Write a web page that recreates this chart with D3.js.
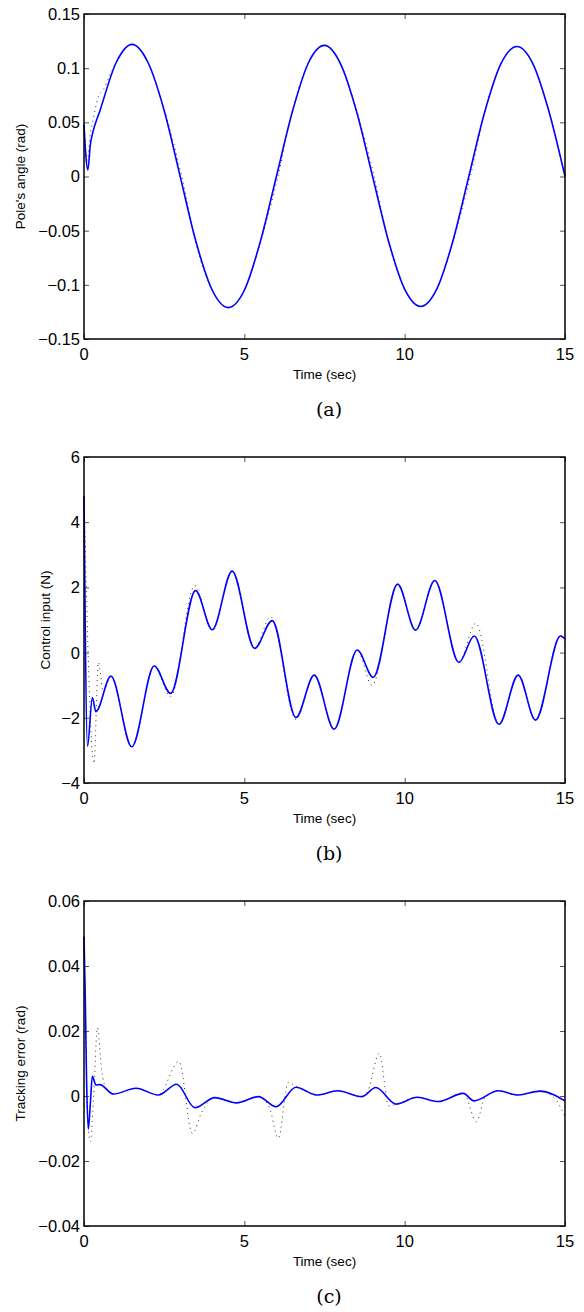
<!DOCTYPE html>
<html>
<head>
<meta charset="utf-8">
<script src="https://cdn.jsdelivr.net/npm/d3@7"></script>
<style>
  body { margin: 0; background: #ffffff; }
  svg { display: block; }
  .tick-label { font-family: "Liberation Sans", Arial, sans-serif; font-size: 16.5px; fill: #000; }
  .axis-label { font-family: "Liberation Sans", Arial, sans-serif; font-size: 13.5px; fill: #000; }
  .caption { font-family: "DejaVu Serif", "Liberation Serif", serif; font-size: 19px; fill: #000; }
</style>
</head>
<body>
<div id="chart"></div>
<script>
// x ticks shared by all panels
const xTicks = [0, 5, 10, 15];

// (a) pole angle
const angleTicks = [0.15, 0.1, 0.05, 0, -0.05, -0.1, -0.15];
const angleTickLabels = ["0.15", "0.1", "0.05", "0", "\u22120.05", "\u22120.1", "\u22120.15"];
const angleT = [0, 0.05, 0.12, 0.2, 0.27, 0.5, 1.0, 1.5, 2.0, 2.5, 3.0, 3.5, 4.0, 4.5, 5.0, 5.5, 6.0, 6.5, 7.0, 7.5, 8.0, 8.5, 9.0, 9.5, 10.0, 10.5, 11.0, 11.5, 12.0, 12.5, 13.0, 13.5, 14.0, 14.5, 15.0];
const angleBlue = [0.048, 0.022, 0.006, 0.03, 0.04, 0.061, 0.105, 0.122, 0.105, 0.061, 0.0, -0.061, -0.105, -0.121, -0.105, -0.060, 0.0, 0.060, 0.105, 0.121, 0.104, 0.060, 0.0, -0.060, -0.104, -0.120, -0.104, -0.060, 0.0, 0.060, 0.104, 0.120, 0.104, 0.060, 0.0];
const angleDotT = [0, 0.1, 0.2, 0.3, 0.45, 0.6, 0.8, 1.0, 1.5, 2.0, 2.5, 3.05, 3.5, 4.0, 4.5, 5.0, 5.5, 6.05, 6.5, 7.0, 7.5, 8.0, 8.5, 9.05, 9.5, 10.0, 10.5, 11.0, 11.5, 12.05, 12.5, 13.0, 13.5, 14.0, 14.5, 15.0];
const angleDot = [0.048, 0.015, 0.04, 0.055, 0.074, 0.08, 0.093, 0.105, 0.122, 0.105, 0.062, 0.0, -0.063, -0.105, -0.121, -0.105, -0.061, 0.0, 0.061, 0.105, 0.121, 0.104, 0.061, 0.0, -0.061, -0.104, -0.120, -0.104, -0.061, 0.0, 0.060, 0.104, 0.120, 0.104, 0.060, 0.0];

// (b) control input, turning points
const forceTicks = [6, 4, 2, 0, -2, -4];
const forceTickLabels = ["6", "4", "2", "0", "\u22122", "\u22124"];
const forceT = [0, 0.11, 0.26, 0.37, 0.84, 1.49, 2.19, 2.70, 3.48, 4.0, 4.62, 5.32, 5.87, 6.61, 7.18, 7.80, 8.52, 9.02, 9.78, 10.34, 10.94, 11.69, 12.17, 12.94, 13.54, 14.08, 14.86, 15.0];
const forceBlue = [4.8, -2.87, -1.38, -1.81, -0.72, -2.89, -0.41, -1.25, 1.90, 0.70, 2.50, 0.13, 0.98, -1.99, -0.69, -2.35, 0.08, -0.76, 2.10, 0.69, 2.21, -0.30, 0.51, -2.20, -0.69, -2.07, 0.51, 0.42];
const forceDotT = [0, 0.31, 0.45, 0.6, 0.84, 1.49, 2.19, 2.70, 3.45, 4.0, 4.62, 5.32, 5.82, 6.61, 7.18, 7.80, 8.52, 8.98, 9.78, 10.34, 10.94, 11.69, 12.22, 12.94, 13.54, 14.08, 14.86, 15.0];
const forceDot = [4.8, -3.4, -0.3, -1.2, -0.75, -2.89, -0.41, -1.35, 2.05, 0.70, 2.50, 0.13, 1.10, -2.05, -0.69, -2.35, 0.08, -1.0, 2.10, 0.69, 2.21, -0.30, 0.90, -2.20, -0.69, -2.07, 0.51, 0.42];

// (c) tracking error
const errTicks = [0.06, 0.04, 0.02, 0, -0.02, -0.04];
const errTickLabels = ["0.06", "0.04", "0.02", "0", "\u22120.02", "\u22120.04"];
const errT = [0, 0.04, 0.08, 0.135, 0.2, 0.26, 0.37, 0.49, 0.92, 1.62, 2.32, 2.89, 3.46, 4.08, 4.76, 5.44, 5.99, 6.61, 7.26, 7.91, 8.66, 9.10, 9.73, 10.39, 11.05, 11.83, 12.16, 12.92, 13.54, 14.22, 15.0];
const errBlue = [0.049, 0.03, 0.005, -0.0102, -0.002, 0.0061, 0.0034, 0.0035, 0.0006, 0.0024, 0.0003, 0.0036, -0.0036, -0.0005, -0.0021, -0.0002, -0.0033, 0.0027, 0.0003, 0.0016, -0.0002, 0.0026, -0.0025, -0.0004, -0.0017, 0.0008, -0.0015, 0.0016, 0.0003, 0.0015, -0.0015];
const errDotT = [0, 0.04, 0.1, 0.2, 0.3, 0.42, 0.55, 0.7, 0.92, 1.62, 2.32, 2.96, 3.38, 3.67, 4.08, 4.76, 5.44, 5.78, 6.06, 6.37, 6.61, 7.26, 7.91, 8.66, 8.85, 9.21, 9.5, 10.39, 11.05, 11.83, 12.24, 12.5, 12.92, 13.54, 14.22, 14.7, 15.0];
const errDot = [0.049, 0.03, -0.005, -0.014, 0.0, 0.021, 0.008, 0.002, 0.0006, 0.0024, 0.0003, 0.0106, -0.0115, -0.005, -0.0005, -0.0021, -0.0002, -0.0035, -0.013, 0.0042, 0.003, 0.0003, 0.0016, -0.0002, 0.0015, 0.0131, -0.003, -0.0004, -0.0017, 0.001, -0.0079, -0.0005, 0.0016, 0.0003, 0.0015, -0.001, -0.0065];

const width = 584;
const height = 1312;
const left = 84, right = 565;

const panels = [
  { top: 14, bottom: 339, domain: [-0.15, 0.15], ticks: angleTicks, labels: angleTickLabels,
    ylabel: "Pole's angle (rad)", ylabelX: 20, caption: "(a)",
    blue: [angleT, angleBlue], dot: [angleDotT, angleDot] },
  { top: 457, bottom: 783, domain: [-4, 6], ticks: forceTicks, labels: forceTickLabels,
    ylabel: "Control input (N)", ylabelX: 45, caption: "(b)",
    blue: [forceT, forceBlue], dot: [forceDotT, forceDot] },
  { top: 901, bottom: 1226, domain: [-0.04, 0.06], ticks: errTicks, labels: errTickLabels,
    ylabel: "Tracking error (rad)", ylabelX: 20, caption: "(c)",
    blue: [errT, errBlue], dot: [errDotT, errDot] }
];

const svg = d3.select("#chart").append("svg")
  .attr("width", width)
  .attr("height", height);

const x = d3.scaleLinear().domain([0, 15]).range([left, right]);

panels.forEach(function (p) {
  const y = d3.scaleLinear().domain(p.domain).range([p.bottom, p.top]);
  const g = svg.append("g");

  // inward ticks on all four sides, MATLAB style
  const xAxisB = d3.axisTop(x).tickValues(xTicks).tickSize(5).tickFormat("");
  const xAxisT = d3.axisBottom(x).tickValues(xTicks).tickSize(5).tickFormat("");
  const yAxisL = d3.axisRight(y).tickValues(p.ticks).tickSize(5).tickFormat("");
  const yAxisR = d3.axisLeft(y).tickValues(p.ticks).tickSize(5).tickFormat("");

  g.append("g").attr("transform", `translate(0,${p.bottom})`).call(xAxisB);
  g.append("g").attr("transform", `translate(0,${p.top})`).call(xAxisT);
  g.append("g").attr("transform", `translate(${left},0)`).call(yAxisL);
  g.append("g").attr("transform", `translate(${right},0)`).call(yAxisR);
  g.selectAll(".domain").remove();
  g.selectAll(".tick line").attr("stroke", "#555").attr("stroke-width", 1);

  const line = d3.line()
    .x((d) => x(d[0]))
    .y((d) => y(d[1]))
    .curve(d3.curveMonotoneX);

  const dotData = p.dot[0].map((t, i) => [t, p.dot[1][i]]);
  const blueData = p.blue[0].map((t, i) => [t, p.blue[1][i]]);

  g.append("path")
    .datum(dotData)
    .attr("d", line)
    .attr("fill", "none")
    .attr("stroke", "#333")
    .attr("stroke-width", 1)
    .attr("stroke-dasharray", "1,4");

  g.append("path")
    .datum(blueData)
    .attr("d", line)
    .attr("fill", "none")
    .attr("stroke", "#0000ff")
    .attr("stroke-width", 1.6);

  // box
  g.append("rect")
    .attr("x", left)
    .attr("y", p.top)
    .attr("width", right - left)
    .attr("height", p.bottom - p.top)
    .attr("fill", "none")
    .attr("stroke", "#000")
    .attr("stroke-width", 1.5);

  // tick labels
  g.selectAll(".xlab")
    .data(xTicks)
    .enter()
    .append("text")
    .attr("class", "tick-label")
    .attr("x", (d) => x(d))
    .attr("y", p.bottom + 21)
    .attr("text-anchor", "middle")
    .text((d) => d);

  g.selectAll(".ylab")
    .data(p.ticks)
    .enter()
    .append("text")
    .attr("class", "tick-label")
    .attr("x", left - 4)
    .attr("y", (d) => y(d))
    .attr("dy", "0.36em")
    .attr("text-anchor", "end")
    .text((d, i) => p.labels[i]);

  g.append("text")
    .attr("class", "axis-label")
    .attr("x", (left + right) / 2)
    .attr("y", p.bottom + 40)
    .attr("text-anchor", "middle")
    .text("Time (sec)");

  g.append("text")
    .attr("class", "axis-label")
    .attr("transform", `translate(${p.ylabelX + 5},${(p.top + p.bottom) / 2}) rotate(-90)`)
    .attr("text-anchor", "middle")
    .text(p.ylabel);

  g.append("text")
    .attr("class", "caption")
    .attr("x", 329)
    .attr("y", p.bottom + 77)
    .attr("text-anchor", "middle")
    .text(p.caption);
});
</script>
</body>
</html>
